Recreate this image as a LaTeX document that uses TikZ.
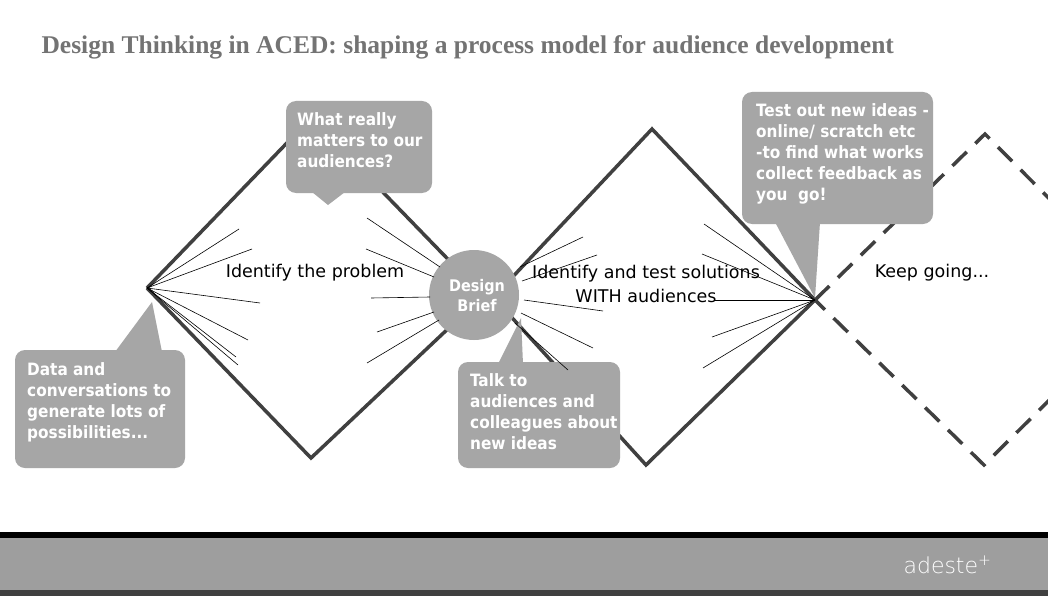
\documentclass[tikz,border=0pt]{standalone}
\usepackage{fontspec}
\setmainfont{DejaVu Sans}
\newfontfamily\titlefont{Liberation Serif}
\newfontfamily\condfont{DejaVu Sans Condensed}
\newfontfamily\thinfont{DejaVu Sans ExtraLight}
\begin{document}
\begin{tikzpicture}[x=1pt,y=-1pt,
 dia/.style={line width=3.5pt,draw=black!75},
 fan/.style={line width=0.6pt},
 call/.style={fill=black!35,draw=none,rounded corners=10pt},
 ctext/.style={text=white,font=\condfont\fontsize{17}{21}\selectfont\bfseries,align=left,anchor=north west,inner sep=0pt},
 lbl/.style={font=\fontsize{17.5}{24}\selectfont}]
\useasboundingbox (0,0) rectangle (1048,596);
\fill[white] (0,0) rectangle (1048,596);
\node[anchor=west,text=black!55,font=\titlefont\fontsize{25.5}{30}\selectfont\bfseries] (title) at (38,47) {Design Thinking in ACED: shaping a process model for audience development};
% diamonds
\draw[dia] (147,288) -- (311,118) -- (470,282) (470,308) -- (311,458) -- (147,288);
\draw[dia] (505,285) -- (652,129) -- (815,300) -- (646,465) -- (505,310);
\begin{scope}
\clip (0,0) rectangle (1048,530);
\draw[dia,dash pattern=on 20pt off 12pt] (815,300) -- (985,134) -- (1150,300) -- (984,465) -- cycle;
\end{scope}
% callouts
\fill[call] (286,101) rectangle (432,193);
\fill[black!35] (312,192) -- (345,192) -- (328,205) -- cycle;
\fill[call] (15,350) rectangle (185,468);
\fill[black!35] (115,352) -- (162,352) -- (152,302) -- cycle;
\fill[call] (458,362) rectangle (620,468);
\fill[black!35] (498,364) -- (523,364) -- (521,318) -- cycle;
\fill[call] (742,92) rectangle (933,224);
\fill[black!35] (775,222) -- (820,222) -- (815,298) -- cycle;
\node[circle,fill=black!35,minimum size=90pt,inner sep=0pt] (db) at (474,295) {};
\node[text=white,font=\condfont\fontsize{16}{20}\selectfont\bfseries,align=center] (dbt) at (477,296) {Design\\Brief};
\node[ctext] (c1) at (297,112) {What really\\matters to our\\audiences?};
\node[ctext] (c2) at (27,362) {Data and\\conversations to\\generate lots of\\possibilities...};
\node[ctext] (c3) at (470,373) {Talk to\\audiences and\\colleagues about\\new ideas};
\node[ctext] (c4) at (756,103) {Test out new ideas -\\online/ scratch etc\\-to find what works\\collect feedback as\\you\ \ go!};
% fans
\coordinate (L) at (147,288);
\foreach \p in {(239,229),(252,249),(260,303),(248,340),(238,365),(236,357)} \draw[fan] (L) -- \p;
\draw[fan] (367,218) -- (440,267) (366,249) -- (434,277) (371,298) -- (430,297) (377,332) -- (434,312) (367,363) -- (439,320);
\draw[fan] (583,237) -- (520,267) (597,255) -- (522,281) (603,311) -- (524,300) (593,348) -- (521,313) (568,370) -- (515,323);
\coordinate (R) at (815,300);
\foreach \p in {(704,224),(702,254),(715,300),(712,337),(703,368)} \draw[fan] (R) -- \p;
\node[lbl] (t1) at (315,273) {Identify the problem};
\node[lbl,align=center] (t2) at (646,284) {Identify and test solutions\\WITH audiences};
\node[lbl] (t3) at (932,273) {Keep going...};
% footer
\fill[black] (0,532) rectangle (1048,538);
\fill[black!38] (0,538) rectangle (1048,590);
\fill[black!75] (0,590) rectangle (1048,596);
\node[text=white,font=\thinfont\fontsize{22}{26}\selectfont,anchor=west] (ad) at (900,565) {adeste\textsuperscript{+}};
\end{tikzpicture}
\end{document}
